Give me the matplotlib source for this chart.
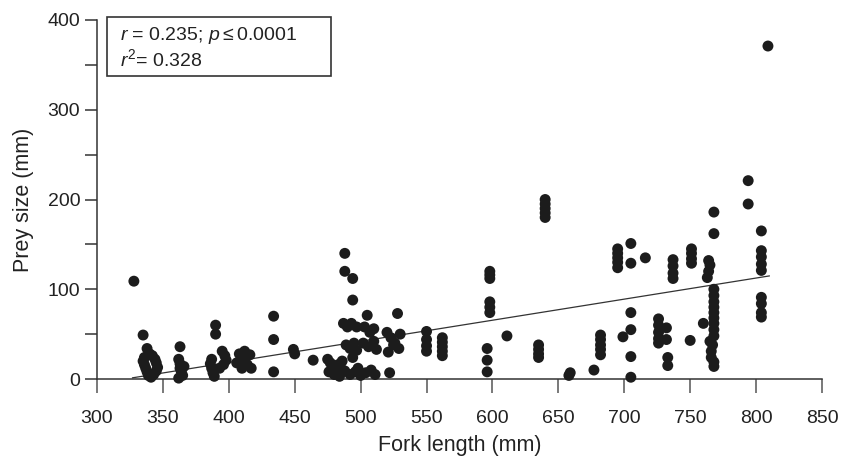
import matplotlib
matplotlib.use("Agg")
import matplotlib.pyplot as plt
import numpy as np
from matplotlib.patches import Rectangle
from matplotlib.ticker import MultipleLocator

plt.rcParams['font.family'] = ['Liberation Sans', 'DejaVu Sans']
plt.rcParams['mathtext.fontset'] = 'custom'
plt.rcParams['mathtext.rm'] = 'Liberation Sans'
plt.rcParams['mathtext.it'] = 'Liberation Sans:italic'

fork_length = [
    328,
    335, 338, 340, 336, 335, 336, 337, 338, 339, 342, 344, 345, 346, 345, 343, 341,
    363, 362, 363, 363, 364, 365, 362, 366,
    390, 390, 387, 386, 387, 388, 389, 395, 397, 398, 396, 393,
    408, 412, 416, 410, 406, 414, 417, 410,
    434, 434, 434,
    449, 450,
    464,
    475, 477, 479, 481, 483, 485, 476, 480, 486, 484,
    488, 488, 494, 494,
    487, 490, 493, 497, 489, 492, 495, 497, 494,
    488, 492, 496, 500, 504, 508, 511, 498,
    505, 503, 507, 510, 502, 506, 510, 512,
    522, 528, 520, 523, 526, 529, 521, 525, 530,
    550, 550, 550, 550,
    562, 562, 562, 562, 562,
    598, 598, 598, 598, 598, 598, 596, 596, 596,
    611,
    635, 635, 635, 635,
    640, 640, 640, 640, 640,
    659, 658,
    677,
    682, 682, 682, 682, 682,
    695, 695, 695, 695, 695,
    705, 705, 705, 705, 705, 705,
    699,
    716,
    726, 726, 726, 726, 726,
    732, 732,
    733, 733,
    737, 737, 737, 737,
    751, 751, 751, 751,
    750,
    760,
    764, 765, 764, 763,
    768, 768, 768, 768, 768, 768, 768, 768, 768, 768, 768,
    767, 766, 766, 768, 768, 765,
    794, 794,
    804, 804, 804, 804, 804, 804, 804, 804, 804,
    809,
]
prey_size = [
    109,
    49, 34, 28, 24, 20, 16, 12, 8, 4, 26, 22, 18, 13, 9, 5, 2,
    36, 22, 17, 12, 8, 4, 1, 14,
    60, 50, 22, 17, 12, 7, 3, 31, 26, 21, 16, 12,
    28, 31, 27, 22, 18, 16, 12, 12,
    70, 44, 8,
    33, 28,
    21,
    22, 18, 14, 10, 16, 12, 8, 5, 20, 3,
    140, 120, 112, 88,
    62, 58, 62, 58, 38, 34, 40, 32, 24,
    9, 5, 8, 4, 7, 10, 5, 12,
    71, 58, 52, 56, 40, 36, 42, 33,
    7, 73, 52, 46, 40, 34, 30, 38, 50,
    53, 44, 37, 31,
    46, 41, 36, 31, 26,
    120, 116, 112, 86, 80, 74, 34, 21, 8,
    48,
    38, 33, 28, 24,
    200, 195, 190, 185, 180,
    7, 4,
    10,
    49, 44, 38, 33, 27,
    145, 140, 135, 130, 124,
    151, 129, 74, 55, 25, 2,
    47,
    135,
    67, 60, 52, 45, 40,
    57, 44,
    24, 15,
    133, 126, 118, 112,
    145, 140, 134, 129,
    43,
    62,
    132, 127, 120, 113,
    186, 162, 100, 93, 86, 80, 74, 68, 62, 55, 48,
    38, 31, 24, 19, 14, 42,
    221, 195,
    165, 143, 136, 128, 121, 91, 84, 74, 69,
    371,
]

fit_slope = 0.235
fit_intercept = -75.5
fit_range = [327, 810]

x_ticks = [300, 350, 400, 450, 500, 550, 600, 650, 700, 750, 800, 850]
y_ticks = [0, 100, 200, 300, 400]

fig = plt.figure(figsize=(8.41, 4.65), dpi=100)
ax = fig.add_axes([0.1153, 0.1849, 0.8621, 0.7721])

ax.scatter(fork_length, prey_size, s=62, color='#1c1c1c', edgecolors='none', zorder=3, clip_on=False)
fx = np.array(fit_range, dtype=float)
ax.plot(fx, fit_intercept + fit_slope * fx, color='#333333', lw=0.9, zorder=2)

ax.set_xlim(300, 850)
ax.set_ylim(0, 400)
ax.set_xticks(x_ticks)
ax.set_yticks(y_ticks)
ax.yaxis.set_minor_locator(MultipleLocator(50))

for s in ['top', 'right']:
    ax.spines[s].set_visible(False)
for s in ['left', 'bottom']:
    ax.spines[s].set_linewidth(1.1)
    ax.spines[s].set_color('#333333')
ax.spines['bottom'].set_bounds(300, 850)

ax.tick_params(axis='x', direction='out', length=10, width=1.1, color='#555555',
               labelsize=14, pad=12, labelcolor='#222222')
ax.tick_params(axis='y', which='major', direction='out', length=9, width=1.1, color='#333333',
               labelsize=14, pad=3, labelcolor='#222222')
ax.tick_params(axis='y', which='minor', direction='out', length=9, width=1.1, color='#333333')

ax.set_xlabel('Fork length (mm)', fontsize=15.5, labelpad=6, color='#222222')
ax.set_ylabel('Prey size (mm)', fontsize=15.5, labelpad=10, color='#222222')

rect = Rectangle((0.0138, 0.844), 0.309, 0.164, transform=ax.transAxes, fill=False,
                 edgecolor='#333333', lw=1.2, clip_on=False, zorder=4)
ax.add_patch(rect)
ax.text(0.032, 0.957, r'$r$ = 0.235; $p$$\leq$0.0001', transform=ax.transAxes,
        fontsize=14, va='center', ha='left', color='#222222')
ax.text(0.032, 0.89, r'$r^{2}$= 0.328', transform=ax.transAxes,
        fontsize=14, va='center', ha='left', color='#222222')

fig.savefig('out.png', dpi=100)
